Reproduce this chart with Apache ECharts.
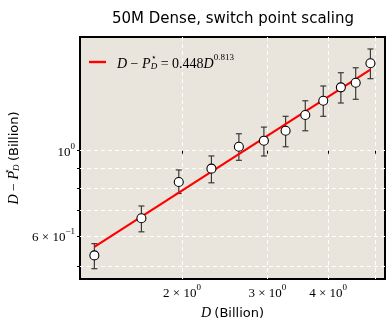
<!DOCTYPE html>
<html>
<head>
<meta charset="utf-8">
<script src="https://cdn.jsdelivr.net/npm/echarts@6/dist/echarts.min.js"></script>
<style>
  html, body { margin: 0; padding: 0; background: #fff; }
  #chart { width: 392px; height: 325px; }
</style>
</head>
<body>
<div id="chart"></div>
<script>
// data (D in billions)
var dVals = [1.32, 1.65, 1.97, 2.30, 2.62, 2.95, 3.27, 3.59, 3.91, 4.25, 4.56, 4.89];
var yVals = [0.534, 0.667, 0.829, 0.898, 1.024, 1.062, 1.127, 1.239, 1.349, 1.462, 1.503, 1.689];
var yLow  = [0.493, 0.615, 0.774, 0.825, 0.944, 0.969, 1.024, 1.127, 1.229, 1.331, 1.361, 1.540];
var yHigh = [0.573, 0.718, 0.891, 0.969, 1.107, 1.152, 1.229, 1.349, 1.474, 1.596, 1.644, 1.840];
// fitted power law, end points
var fitLine = [[1.32, 0.562], [4.89, 1.626]];

var xTicks = [2, 3, 4, 5];
var xLabels = [2, 3, 4];
var yTicks = [0.5, 0.6, 0.7, 0.8, 0.9, 1.0];
var yLabels = [0.6, 1.0];

var lg = function (v) { return Math.log10(v); };
var serif = 'Liberation Serif';

var chart = echarts.init(document.getElementById('chart'));

var supRich = {
  n: { fontFamily: serif, fontSize: 13, color: '#000', lineHeight: 17, verticalAlign: 'bottom' },
  s: { fontFamily: serif, fontSize: 9, color: '#000', lineHeight: 9, verticalAlign: 'top' }
};

var mathRich = {
  i: { fontFamily: serif, fontStyle: 'italic', fontSize: 14, color: '#000', lineHeight: 18, verticalAlign: 'bottom' },
  t: { fontFamily: serif, fontSize: 14, color: '#000', lineHeight: 18, verticalAlign: 'bottom' },
  sup: { fontFamily: serif, fontSize: 9, color: '#000', lineHeight: 9, verticalAlign: 'top', width: 0.1 },
  sub: { fontFamily: serif, fontStyle: 'italic', fontSize: 9, color: '#000', lineHeight: 9, verticalAlign: 'bottom' },
  ex: { fontFamily: serif, fontSize: 9, color: '#000', lineHeight: 9, verticalAlign: 'top' },
  b: { fontFamily: 'DejaVu Sans', fontSize: 13, color: '#000', lineHeight: 18, verticalAlign: 'bottom' }
};

var option = {
  animation: false,
  title: {
    text: '50M Dense, switch point scaling',
    left: 228,
    textAlign: 'center',
    top: 7,
    textStyle: { fontFamily: 'DejaVu Sans', fontSize: 15, fontWeight: 'normal', color: '#000' }
  },
  legend: {
    left: 89,
    top: 53,
    padding: 0,
    itemWidth: 17,
    itemHeight: 2.4,
    data: [{ name: 'fit', icon: 'rect' }],
    formatter: function () {
      return '{i|D}{t| − }{i|P}{sup|⋆}{sub|D}{t| = 0.448}{i|D}{ex|0.813}';
    },
    textStyle: { padding: [0, 0, 0, 6], rich: mathRich }
  },
  grid: {
    left: 80, right: 7, top: 37, bottom: 46,
    outerBoundsMode: 'none',
    containLabel: false,
    show: true,
    backgroundColor: '#EAE5DC',
    borderColor: '#000',
    borderWidth: 2
  },
  xAxis: {
    type: 'value',
    min: lg(1.233),
    max: lg(5.24),
    name: '{i|D} {b|(Billion)}',
    nameLocation: 'middle',
    nameGap: 18,
    nameTextStyle: { rich: mathRich },
    axisLine: { show: false },
    axisTick: { show: true, length: 3, lineStyle: { color: '#000' }, customValues: xTicks.map(lg) },
    axisLabel: {
      customValues: xLabels.map(lg),
      margin: 4,
      formatter: function (v) {
        var d = Math.round(Math.pow(10, v) * 10) / 10;
        return '{n|' + d + ' × 10}{s|0}';
      },
      rich: supRich
    },
    splitLine: { show: true, lineStyle: { color: '#fff', type: [4, 3], width: 1 } }
  },
  yAxis: {
    type: 'value',
    min: lg(0.4635),
    max: lg(1.977),
    name: '{i|D}{t| − }{i|P}{sup|⋆}{sub|D} {b|(Billion)}',
    nameLocation: 'middle',
    nameRotate: 90,
    nameGap: 57,
    nameTextStyle: { rich: mathRich },
    axisLine: { show: false },
    axisTick: { show: true, length: 3, lineStyle: { color: '#000' }, customValues: yTicks.map(lg) },
    axisLabel: {
      customValues: yLabels.map(lg),
      margin: 5,
      formatter: function (v) {
        if (Math.abs(v) < 1e-6) return '{n|10}{s|0}';
        return '{n|6 × 10}{s|−1}';
      },
      rich: supRich
    },
    splitLine: { show: true, lineStyle: { color: '#fff', type: [4, 3], width: 1 } }
  },
  series: [
    {
      name: 'err',
      type: 'custom',
      z: 2,
      data: dVals.map(function (d, i) { return [lg(d), lg(yLow[i]), lg(yHigh[i])]; }),
      encode: { x: 0, y: [1, 2] },
      renderItem: function (params, api) {
        var top = api.coord([api.value(0), api.value(2)]);
        var bot = api.coord([api.value(0), api.value(1)]);
        var c = 3;
        var st = { stroke: '#3a3a3a', lineWidth: 1.2 };
        return {
          type: 'group',
          children: [
            { type: 'line', shape: { x1: top[0], y1: top[1], x2: bot[0], y2: bot[1] }, style: st },
            { type: 'line', shape: { x1: top[0] - c, y1: top[1], x2: top[0] + c, y2: top[1] }, style: st },
            { type: 'line', shape: { x1: bot[0] - c, y1: bot[1], x2: bot[0] + c, y2: bot[1] }, style: st }
          ]
        };
      }
    },
    {
      name: 'fit',
      type: 'line',
      z: 3,
      symbol: 'none',
      data: fitLine.map(function (p) { return [lg(p[0]), lg(p[1])]; }),
      lineStyle: { color: '#ff0000', width: 2.2 },
      itemStyle: { color: '#ff0000' }
    },
    {
      name: 'points',
      type: 'scatter',
      z: 4,
      symbol: 'circle',
      symbolSize: 9,
      data: dVals.map(function (d, i) { return [lg(d), lg(yVals[i])]; }),
      itemStyle: { color: '#fff', borderColor: '#000', borderWidth: 1.1, opacity: 1 }
    }
  ]
};

chart.setOption(option);
</script>
</body>
</html>
